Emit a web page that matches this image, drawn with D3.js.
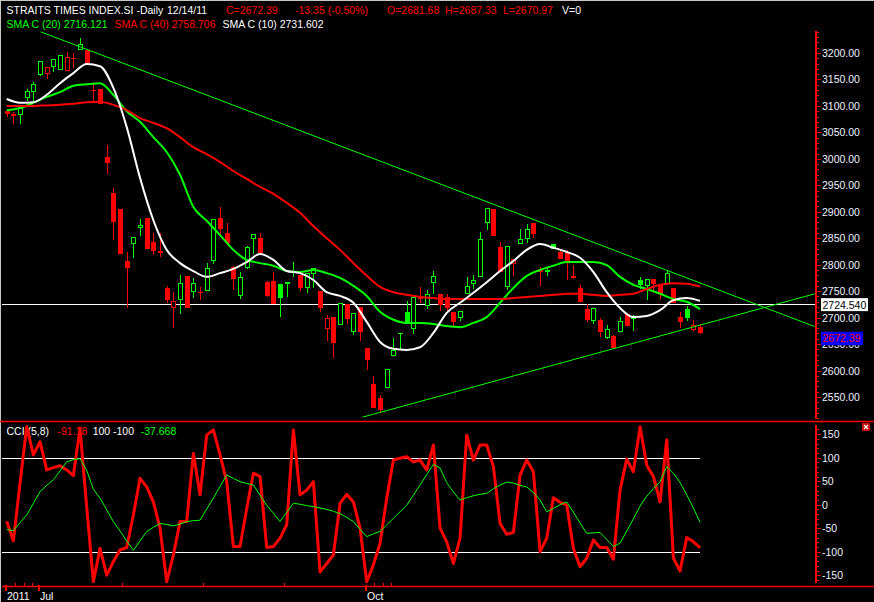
<!DOCTYPE html>
<html><head><meta charset="utf-8">
<script src="https://cdn.jsdelivr.net/npm/d3@7"></script>
<style>html,body{margin:0;padding:0;background:#000;overflow:hidden}svg{display:block}</style>
</head><body><svg id="c" width="874" height="602"></svg>
<script>
// ---------- DATA ----------
const open = [3090,3084,3085,3117,3128,3160,3162,3175,3170,3168, 3191,3208,3206,3131,3132,3003,2935,2905,2807,2841, 2871,2888,2843,2825,2756,2720,2735,2779,2750,2749, 2752,2809,2888,2860,2796,2743,2796,2850,2850,2767, 2769,2764,2766,2787,2781,2758,2784,2750,2680,2701, 2688,2726,2675,2720,2643,2575,2548,2569,2629,2670, 2711,2680,2738,2724,2767,2745,2739,2711,2701,2747, 2765,2779,2881,2905,2833,2760,2803,2841,2850,2879, 2792,2788,2839,2824,2822,2778,2756,2716,2696,2696, 2663,2665,2675,2707,2700,2771,2762,2773,2762,2765, 2756,2701,2716,2678,2681.68];
const high = [3092,3088,3096,3132,3145,3185,3174,3189,3196,3202, 3200,3228,3206,3140,3132,3026,2945,2905,2824,2852, 2886,2888,2860,2860,2760,2748,2781,2779,2775,2758, 2803,2886,2909,2879,2798,2786,2835,2858,2860,2769, 2786,2764,2767,2805,2781,2784,2794,2750,2705,2701, 2728,2726,2709,2720,2643,2590,2554,2603,2662,2671, 2731,2739,2758,2752,2788,2745,2745,2711,2712,2777, 2781,2862,2907,2905,2843,2835,2811,2867,2877,2879, 2796,2796,2839,2830,2828,2799,2762,2726,2718,2699, 2686,2667,2701,2707,2705,2777,2773,2773,2762,2790, 2756,2711,2722,2696,2687.33];
const low = [3081,3068,3068,3111,3111,3158,3153,3166,3170,3168, 3174,3208,3181,3111,3106,2973,2849,2822,2720,2815, 2856,2832,2820,2816,2730,2682,2709,2720,2739,2735, 2752,2803,2860,2843,2754,2737,2794,2822,2824,2741, 2728,2703,2741,2779,2752,2748,2758,2712,2658,2626, 2688,2690,2669,2658,2603,2532,2522,2569,2629,2643, 2690,2671,2730,2718,2747,2714,2711,2684,2696,2747, 2756,2779,2867,2856,2788,2754,2781,2841,2843,2852, 2762,2781,2832,2813,2773,2775,2731,2694,2690,2665, 2662,2644,2675,2686,2677,2756,2735,2752,2737,2765, 2730,2682,2696,2677,2670.97];
const close = [3087,3083,3096,3128,3141,3185,3174,3189,3196,3192, 3190,3217,3181,3130,3106,2994,2883,2822,2796,2852, 2875,2832,2828,2824,2735,2731,2765,2720,2765,2748, 2794,2886,2869,2843,2775,2776,2833,2858,2824,2743, 2728,2739,2767,2788,2758,2784,2794,2720,2699,2654, 2728,2699,2709,2675,2622,2532,2528,2603,2639,2671, 2690,2739,2737,2745,2779,2726,2720,2694,2712,2760, 2771,2849,2907,2856,2788,2835,2811,2849,2867,2860, 2788,2790,2832,2813,2809,2777,2731,2697,2718,2675, 2679,2644,2694,2686,2701,2764,2773,2765,2747,2784, 2730,2694,2701,2685.74,2672.39];

// moving averages at every second bar (bar index 0,2,4,...,104)
const smaIndex = d3.range(0, 105, 2);
const sma10 = [3113,3106,3107,3121,3143,3162,3179,3175,3134,3060,2964,2884,2828,2803,2788,2777,2784,2792,2805,2820,2809,2788,2784,2771,2748,2741,2728,2692,2654,2641,2639,2644,2671,2709,2728,2747,2767,2788,2807,2828,2839,2832,2824,2813,2786,2748,2718,2701,2703,2714,2733,2737,2731.6];
const sma20 = [3092,3096,3106,3117,3126,3138,3141,3143,3121,3090,3070,3041,3013,2970,2909,2883,2856,2828,2809,2803,2798,2788,2786,2790,2784,2775,2760,2741,2711,2696,2690,2690,2688,2684,2682,2690,2701,2728,2756,2779,2790,2798,2805,2805,2805,2799,2777,2762,2754,2745,2735,2730,2716.1];
const sma40 = [3100,3100,3100,3101,3102,3104,3107,3108,3102,3092,3077,3068,3058,3041,3022,3009,2994,2977,2962,2947,2934,2917,2898,2873,2850,2828,2803,2779,2758,2748,2743,2739,2737,2735,2735,2735,2735,2735,2737,2739,2741,2743,2745,2745,2743,2741,2743,2745,2754,2762,2765,2764,2758.7];

const cci = [-35,-77,46,166,106,134,74,79,83,74, 62,163,-5,-164,-93,-150,-121,-96,-91,-22, 56,38,6,-50,-164,-107,-36,-36,109,21, 148,159,106,49,-89,-89,-8,67,60,-91, -89,-71,-43,159,21,31,49,-143,-125,-107, 3,22,6,-50,-164,-128,-82,14,95,99, 102,91,95,74,127,-50,-79,-125,-71,148, 95,127,127,81,-40,-63,-59,63,95,70, -100,-71,15,5,-1,-93,-132,-114,-75,-91, -91,-116,31,97,70,166,84,60,6,138, -114,-141,-70,-79,-91.18];
const cciSignal = [-53,-55,-38,-22,3,28,41,53,72,91, 96,98,73,33,14,-11,-36,-56,-77,-97, -77,-57,-48,-40,-42,-45,-41,-36,-34,-33, -9,14,39,63,56,49,45,42,20,-1, -18,-36,-16,3,1,-2,-4,-7,-10,-14, -19,-27,-36,-52,-68,-62,-57,-43,-29,-15, -1,20,42,64,86,78,47,27,10,15, 19,22,24,34,42,48,46,41,38,26, 10,-15,-8,0,6,-16,-39,-61,-60,-59, -74,-89,-82,-56,-30,-3,18,34,49,81, 67,47,21,-7,-37.668];
const cciLevels = [100, -100];

const priceLine = 2724.54;
const trendDownIdx = [5.1, 121.2], trendDownVal = [3240, 2683];
const trendUpIdx = [53.4, 121.2],  trendUpVal = [2512, 2745];

const priceTicks = d3.range(2510, 3241, 10);
const priceLabels = d3.range(2550, 3201, 50);
const cciTicks = d3.range(-160, 161, 10);
const cciLabels = [150, 100, 50, 0, -50, -100, -150];
const dateMajorIdx = [-0.1, 4.85, 53.9];
const dateLabels = ["2011", "Jul", "Oct"];
const dateMinorIdx = [1.25, 2.6, 3.8, 17.3, 29.45, 41.6, 55.1, 56.4, 57.6];

// ---------- DRAW ----------
const W = 874, H = 602;
const FONT = '"Liberation Sans", Arial, sans-serif';
const GREEN = '#00ff00', RED = '#ff0000';
const svg = d3.select('#c');
svg.append('rect').attr('width', W).attr('height', H).attr('fill', '#000');

const x = d3.scaleLinear().domain([0, 104]).range([6.7, 700.07]);
const y = d3.scaleLinear().domain([2550, 3200]).range([397, 53]);
const yc = d3.scaleLinear().domain([-100, 100]).range([551.7, 457.7]);

const defs = svg.append('defs');
defs.append('clipPath').attr('id', 'cp').append('rect').attr('x', 2).attr('y', 31).attr('width', 813).attr('height', 389);
defs.append('clipPath').attr('id', 'cc').append('rect').attr('x', 2).attr('y', 422).attr('width', 813).attr('height', 164);

// window border
svg.append('line').attr('x1', 0).attr('x2', W).attr('y1', 0.5).attr('y2', 0.5).attr('stroke', '#c8c8c8');
svg.append('line').attr('x1', 0.5).attr('x2', 0.5).attr('y1', 0).attr('y2', H).attr('stroke', '#c8c8c8');

function txt(g, s, xx, yy, col, anchor) {
  return g.append('text').attr('x', xx).attr('y', yy).attr('fill', col)
    .attr('font-family', FONT).attr('font-size', '10.5px')
    .attr('text-anchor', anchor || 'start').text(s);
}

// header
const last = close.length - 1;
const chg = close[last] - close[last - 1];
const pct = chg / close[last - 1] * 100;
txt(svg, 'STRAITS TIMES INDEX.SI -Daily', 6.5, 14, '#fff');
txt(svg, '12/14/11', 167, 14, '#fff');
txt(svg, 'C=' + close[last].toFixed(2), 226, 14, RED);
txt(svg, chg.toFixed(2) + ' (' + pct.toFixed(2) + '%)', 295, 14, RED);
txt(svg, 'O=' + open[last].toFixed(2), 387, 14, RED);
txt(svg, 'H=' + high[last].toFixed(2), 445, 14, RED);
txt(svg, 'L=' + low[last].toFixed(2), 503, 14, RED);
txt(svg, 'V=0', 562, 14, '#fff');
txt(svg, 'SMA C (20) 2716.121', 6.5, 27.5, GREEN);
txt(svg, 'SMA C (40) 2758.706', 114.5, 27.5, RED);
txt(svg, 'SMA C (10) 2731.602', 222.5, 27.5, '#fff');

// ----- price panel -----
const gp = svg.append('g').attr('clip-path', 'url(#cp)');
const hy = Math.floor(y(priceLine)) + 0.5;
gp.append('line').attr('x1', 2).attr('x2', 815).attr('y1', hy).attr('y2', hy).attr('stroke', '#fff').attr('stroke-width', 1);

const bars = d3.range(close.length);
const gc = gp.append('g');
bars.forEach(i => {
  const prev = i ? close[i - 1] : open[i];
  const col = close[i] >= prev ? GREEN : RED;
  const cx = Math.round(x(i));
  gc.append('line').attr('x1', cx + 0.5).attr('x2', cx + 0.5)
    .attr('y1', Math.round(y(high[i]))).attr('y2', Math.round(y(low[i])) + 1)
    .attr('stroke', col).attr('stroke-width', 1);
  const t = Math.round(y(Math.max(open[i], close[i])));
  const b = Math.round(y(Math.min(open[i], close[i])));
  if (b - t < 1) {
    gc.append('line').attr('x1', cx - 2).attr('x2', cx + 3).attr('y1', t + 0.5).attr('y2', t + 0.5)
      .attr('stroke', col).attr('stroke-width', 1);
  } else {
    const hollow = close[i] > open[i];
    gc.append('rect').attr('x', cx - 1.5).attr('y', t + 0.5).attr('width', 4).attr('height', b - t)
      .attr('fill', hollow ? '#000' : col).attr('stroke', col).attr('stroke-width', 1);
  }
});

const smaLine = d3.line().x(d => x(d[0])).y(d => y(d[1])).curve(d3.curveMonotoneX);
[[sma20, GREEN], [sma40, RED], [sma10, '#fff']].forEach(([arr, col]) => {
  gp.append('path').attr('d', smaLine(smaIndex.map((k, j) => [k, arr[j]])))
    .attr('fill', 'none').attr('stroke', col).attr('stroke-width', 2).attr('stroke-linejoin', 'round');
});

[[trendDownIdx, trendDownVal], [trendUpIdx, trendUpVal]].forEach(([ix, vv]) => {
  gp.append('line').attr('x1', x(ix[0])).attr('y1', y(vv[0])).attr('x2', x(ix[1])).attr('y2', y(vv[1]))
    .attr('stroke', GREEN).attr('stroke-width', 1);
});

// price axis
const ga = svg.append('g').attr('shape-rendering', 'crispEdges');
ga.append('line').attr('x1', 815.5).attr('x2', 815.5).attr('y1', 31).attr('y2', 419).attr('stroke', RED).attr('stroke-width', 2);
priceTicks.forEach(p => {
  const yy = Math.round(y(p)) + 0.5;
  const major = p % 50 === 0;
  ga.append('line').attr('x1', 816).attr('x2', major ? 821 : 819).attr('y1', yy).attr('y2', yy).attr('stroke', RED);
});
priceLabels.forEach(p => txt(svg, p.toFixed(2), 822, y(p) + 4, '#eef2ff'));

// value boxes
const pby = y(priceLine);
svg.append('rect').attr('x', 821).attr('y', pby - 6.5).attr('width', 47).attr('height', 13).attr('fill', '#fff');
txt(svg, priceLine.toFixed(3), 822.5, pby + 4, '#000');
const cy = y(close[last]);
svg.append('rect').attr('x', 821).attr('y', cy - 0.5).attr('width', 42).attr('height', 13.5).attr('fill', '#0000ff');
txt(svg, close[last].toFixed(2), 822.5, cy + 10, RED);

// separators
svg.append('line').attr('x1', 0).attr('x2', W).attr('y1', 421.5).attr('y2', 421.5).attr('stroke', RED).attr('stroke-width', 1.5);
svg.append('line').attr('x1', 2).attr('x2', W).attr('y1', 586.5).attr('y2', 586.5).attr('stroke', RED).attr('stroke-width', 1.5);

// ----- CCI panel -----
txt(svg, 'CCI (5,8)', 6.5, 434.5, '#fff');
txt(svg, cci[last].toFixed(2), 57.5, 434.5, RED);
txt(svg, '100', 92.7, 434.5, '#fff');
txt(svg, '-100', 113, 434.5, '#fff');
txt(svg, cciSignal[last].toFixed(3), 140.7, 434.5, GREEN);

const gcc = svg.append('g').attr('clip-path', 'url(#cc)');
cciLevels.forEach(v => {
  const yy = Math.round(yc(v)) + 0.5;
  gcc.append('line').attr('x1', 2).attr('x2', x(last)).attr('y1', yy).attr('y2', yy).attr('stroke', '#fff').attr('stroke-width', 1);
});
const cLine = d3.line().x((d, i) => x(i)).y(d => yc(d));
gcc.append('path').attr('d', cLine(cci)).attr('fill', 'none').attr('stroke', RED).attr('stroke-width', 3).attr('stroke-linejoin', 'round');
gcc.append('path').attr('d', cLine(cciSignal)).attr('fill', 'none').attr('stroke', GREEN).attr('stroke-width', 1);

const gca = svg.append('g').attr('shape-rendering', 'crispEdges');
gca.append('line').attr('x1', 815.5).attr('x2', 815.5).attr('y1', 425).attr('y2', 583).attr('stroke', RED).attr('stroke-width', 2);
cciTicks.forEach(v => {
  const yy = Math.round(yc(v)) + 0.5;
  const major = v % 50 === 0;
  gca.append('line').attr('x1', 816).attr('x2', major ? 821 : 819).attr('y1', yy).attr('y2', yy).attr('stroke', RED);
});
cciLabels.forEach(v => txt(svg, String(v), 822, yc(v) + 4, '#eef2ff'));

// close button
svg.append('rect').attr('x', 862).attr('y', 423).attr('width', 8).attr('height', 8).attr('fill', '#c81010');
svg.append('path').attr('d', 'M864,425L868,429M868,425L864,429').attr('stroke', '#fff').attr('stroke-width', 1.2);

// date axis
const gd = svg.append('g').attr('shape-rendering', 'crispEdges');
dateMajorIdx.forEach((k, j) => {
  const xx = Math.round(x(k));
  gd.append('rect').attr('x', xx - 1).attr('y', 585).attr('width', 2).attr('height', 6).attr('fill', RED);
  txt(svg, dateLabels[j], xx + 1, 599.5, '#fff');
});
dateMinorIdx.forEach(k => {
  const xx = Math.round(x(k)) + 0.5;
  gd.append('line').attr('x1', xx).attr('x2', xx).attr('y1', 583).attr('y2', 587).attr('stroke', RED);
});
</script></body></html>
